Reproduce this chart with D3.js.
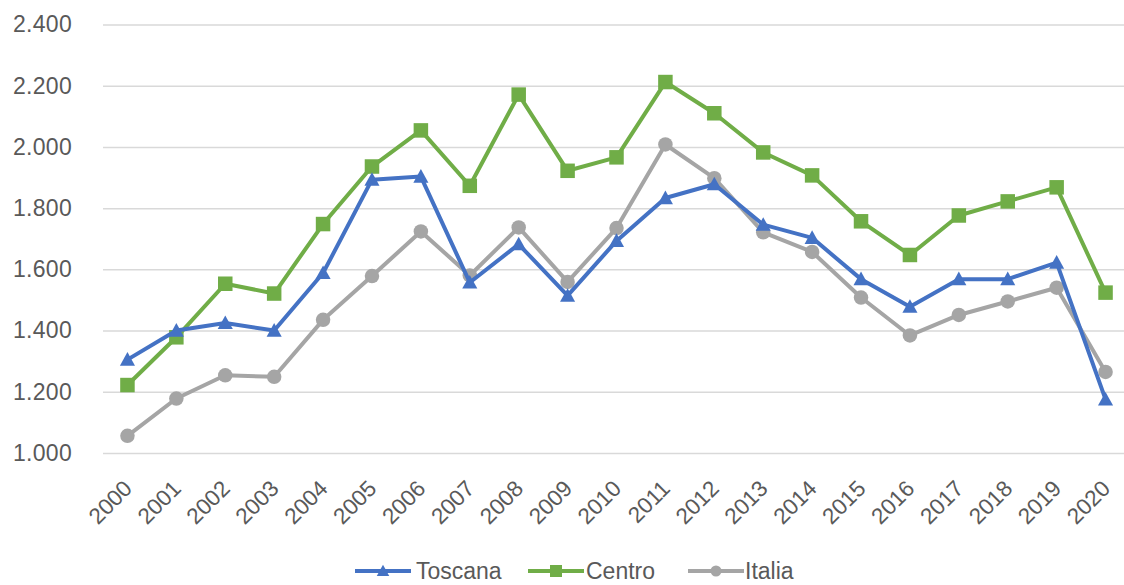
<!DOCTYPE html>
<html>
<head>
<meta charset="utf-8">
<script src="https://cdn.jsdelivr.net/npm/d3@7"></script>
<style>
  html, body { margin: 0; padding: 0; background: #fff; }
  svg { display: block; }
</style>
</head>
<body>
<svg id="chart" width="1124" height="585"></svg>
<script>
// Years on the category axis
const years = ["2000","2001","2002","2003","2004","2005","2006","2007","2008","2009","2010",
               "2011","2012","2013","2014","2015","2016","2017","2018","2019","2020"];

// Series values
const toscana = [1305, 1400, 1425, 1400, 1588, 1893, 1903, 1557, 1682, 1514, 1693,
                 1833, 1878, 1746, 1703, 1568, 1478, 1568, 1568, 1622, 1175];
const centro  = [1222, 1378, 1553, 1521, 1748, 1936, 2054, 1873, 2171, 1922, 1966,
                 2212, 2110, 1982, 1907, 1757, 1647, 1776, 1822, 1868, 1524];
const italia  = [1056, 1178, 1254, 1249, 1435, 1578, 1724, 1580, 1737, 1559, 1735,
                 2008, 1898, 1721, 1657, 1508, 1384, 1451, 1495, 1540, 1265];

// Value axis ticks
const yTicks = [1000, 1200, 1400, 1600, 1800, 2000, 2200, 2400];

const seriesNames = ["Toscana", "Centro", "Italia"];
const seriesColors = ["#4472C4", "#70AD47", "#A5A5A5"];
const seriesMarkers = ["triangle", "square", "circle"];
const seriesData = [toscana, centro, italia];

const svg = d3.select("#chart");
const margin = { left: 103, right: 1130, top: 24.5, bottom: 453 };

const x = d3.scaleBand().domain(years).range([margin.left, margin.right]);
const xc = d => x(d) + x.bandwidth() / 2;
const y = d3.scaleLinear().domain([1000, 2400]).range([margin.bottom, margin.top]);

const fontFamily = "'Liberation Sans', Arial, sans-serif";
const textColor = "#595959";
const itFormat = d3.formatLocale({ decimal: ",", thousands: ".", grouping: [3], currency: ["€", ""] }).format(",d");

// Gridlines and value labels
const yAxis = d3.axisLeft(y).tickValues(yTicks).tickSize(-(margin.right - margin.left)).tickFormat(itFormat).tickPadding(31);
const gy = svg.append("g").attr("transform", `translate(${margin.left},0)`).call(yAxis);
gy.select(".domain").remove();
gy.selectAll(".tick line").attr("stroke", "#D9D9D9").attr("stroke-width", 1.5);
gy.selectAll(".tick text")
  .attr("fill", textColor)
  .style("font-family", fontFamily)
  .style("font-size", "23px")
  .style("letter-spacing", "0.3px");

// Category axis labels, rotated
const xAxis = d3.axisBottom(x).tickSize(0).tickPadding(0);
const gx = svg.append("g").attr("transform", `translate(0,${margin.bottom})`).call(xAxis);
gx.select(".domain").remove();
gx.selectAll(".tick text")
  .attr("fill", textColor)
  .style("font-family", fontFamily)
  .style("font-size", "22.5px")
  .attr("text-anchor", "end")
  .attr("dy", null)
  .attr("y", 0)
  .attr("transform", "translate(6,37) rotate(-45)");

// Marker drawing helper
function drawMarker(g, type, cx, cy, size, color) {
  if (type === "triangle") {
    const hw = size * 0.52, up = size * 0.52, down = size * 0.42;
    g.append("path")
      .attr("d", `M${cx},${cy - up} L${cx + hw},${cy + down} L${cx - hw},${cy + down} Z`)
      .attr("fill", color);
  } else if (type === "square") {
    g.append("rect")
      .attr("x", cx - size / 2).attr("y", cy - size / 2)
      .attr("width", size).attr("height", size)
      .attr("fill", color);
  } else {
    g.append("circle").attr("cx", cx).attr("cy", cy).attr("r", size / 2).attr("fill", color);
  }
}

// Lines and markers (Italia first so Toscana stays on top)
const order = [2, 1, 0];
const line = d3.line().x((d, i) => xc(years[i])).y(d => y(d));
order.forEach(k => {
  const g = svg.append("g");
  g.append("path")
    .attr("d", line(seriesData[k]))
    .attr("fill", "none")
    .attr("stroke", seriesColors[k])
    .attr("stroke-width", 4)
    .attr("stroke-linejoin", "round");
  seriesData[k].forEach((v, i) => {
    drawMarker(g, seriesMarkers[k], xc(years[i]), y(v), 14.5, seriesColors[k]);
  });
});

// Legend
const legendItems = [
  { lx: 355, tx: 416 },
  { lx: 528, tx: 586 },
  { lx: 688, tx: 745 }
];
const ly = 571;
seriesNames.forEach((name, k) => {
  const g = svg.append("g");
  const it = legendItems[k];
  g.append("line")
    .attr("x1", it.lx).attr("x2", it.lx + 56)
    .attr("y1", ly).attr("y2", ly)
    .attr("stroke", seriesColors[k]).attr("stroke-width", 4);
  drawMarker(g, seriesMarkers[k], it.lx + 28, ly, seriesMarkers[k] === "circle" ? 11 : 12, seriesColors[k]);
  g.append("text")
    .attr("x", it.tx).attr("y", ly)
    .attr("dy", "0.35em")
    .attr("fill", textColor)
    .style("font-family", fontFamily)
    .style("font-size", "23px")
    .text(name);
});
</script>
</body>
</html>
